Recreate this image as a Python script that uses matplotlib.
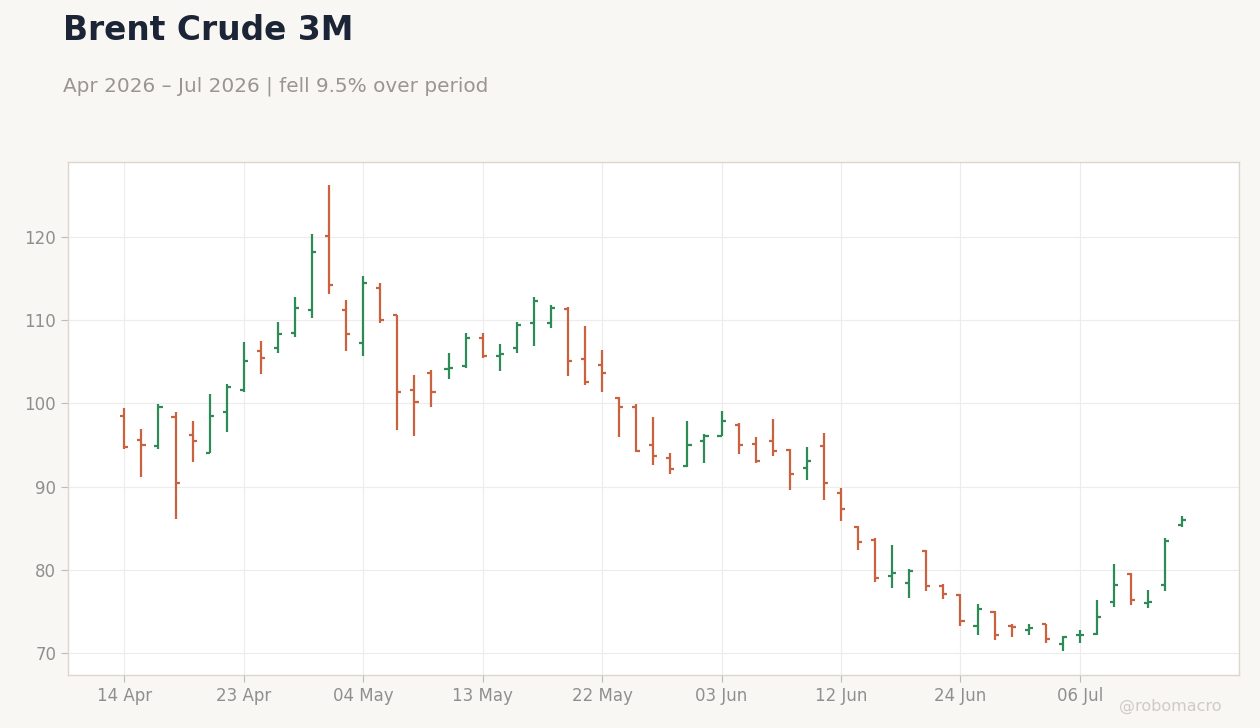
import numpy as np
import pandas as pd
import matplotlib
matplotlib.use("Agg")
import matplotlib.pyplot as plt

# Brent 3M daily OHLC (trading days only, US market holidays skipped)
holidays = ["2026-05-25", "2026-06-19", "2026-07-03"]
dates = pd.bdate_range("2026-04-14", "2026-07-14", freq="C", holidays=holidays)

opens = [98.5, 95.6, 94.9, 98.3, 96.2, 94.0, 99.0, 101.6, 106.3, 106.6,
         108.4, 111.2, 120.1, 111.2, 107.2, 113.9, 110.6, 101.6, 103.7, 104.1,
         104.5, 107.8, 105.7, 106.7, 109.7, 109.6, 111.3, 105.3, 104.65, 100.6,
         99.5, 95.0, 93.45, 92.5, 95.5, 96.1, 97.4, 95.1, 95.5, 94.4,
         92.25, 94.9, 89.2, 85.1, 83.6, 79.3, 78.45, 82.3, 78.05, 77.0,
         73.2, 74.95, 73.25, 72.7, 73.45, 71.1, 72.1, 72.25, 76.1, 79.5,
         76.05, 78.15, 85.4]
highs = [99.4, 96.9, 99.9, 98.9, 97.9, 101.1, 102.3, 107.4, 107.5, 109.8,
         112.8, 120.4, 126.2, 112.4, 115.3, 114.5, 110.6, 103.4, 104.0, 106.1,
         108.5, 108.4, 107.15, 109.8, 112.8, 111.85, 111.6, 109.3, 106.4, 100.8,
         99.9, 98.3, 94.0, 97.9, 96.3, 99.1, 97.6, 95.9, 98.1, 94.5,
         94.7, 96.4, 89.8, 85.2, 83.8, 83.0, 80.1, 82.35, 78.25, 77.05,
         75.9, 75.1, 73.45, 73.5, 73.5, 72.0, 72.7, 76.4, 80.65, 79.55,
         77.6, 83.85, 86.4]
lows = [94.5, 91.1, 94.5, 86.1, 92.9, 94.0, 96.6, 101.4, 103.5, 106.0,
        108.0, 110.3, 113.1, 106.3, 105.7, 109.7, 96.8, 96.1, 99.6, 102.9,
        104.2, 105.4, 103.9, 106.1, 106.9, 109.0, 103.3, 102.25, 101.4, 96.0,
        94.2, 92.6, 91.5, 92.4, 92.85, 96.1, 93.9, 92.8, 93.7, 89.6,
        90.8, 88.4, 85.9, 82.4, 78.5, 77.85, 76.65, 77.4, 76.5, 73.2,
        72.1, 71.5, 71.95, 72.2, 71.2, 70.2, 71.2, 72.2, 75.5, 75.75,
        75.4, 77.45, 85.15]
closes = [94.8, 95.0, 99.5, 90.4, 95.5, 98.5, 102.0, 105.1, 105.4, 108.3,
          111.4, 118.2, 114.2, 108.3, 114.5, 110.0, 101.3, 100.1, 101.4, 104.3,
          107.9, 105.7, 105.9, 109.4, 112.25, 111.4, 105.1, 102.6, 103.6, 99.6,
          94.3, 93.7, 92.1, 95.0, 96.1, 97.9, 95.0, 93.1, 94.3, 91.5,
          93.1, 90.4, 87.3, 83.3, 79.0, 79.65, 79.9, 78.0, 77.1, 73.8,
          75.3, 72.1, 73.1, 72.95, 71.65, 71.9, 72.15, 74.3, 78.15, 76.4,
          76.15, 83.45, 86.0]

title = "Brent Crude 3M"
subtitle = "Apr 2026 \u2013 Jul 2026 | fell 9.5% over period"

UP = "#2e8b57"
DOWN = "#c9623f"
BG = "#f9f7f4"

o = np.array(opens)
h = np.array(highs)
l = np.array(lows)
c = np.array(closes)
x = np.arange(len(o))
colors = [UP if cc >= oo else DOWN for oo, cc in zip(o, c)]

fig = plt.figure(figsize=(12.6, 7.28), dpi=100, facecolor=BG)
ax = fig.add_axes([0.054, 0.0728, 0.929, 0.7047])
ax.set_facecolor("white")

tick = 0.24
ax.vlines(x, l, h, colors=colors, linewidth=1.6, zorder=3)
ax.hlines(o, x - tick, x, colors=colors, linewidth=1.6, zorder=3)
ax.hlines(c, x, x + tick, colors=colors, linewidth=1.6, zorder=3)

ax.set_xlim(-3.3, len(x) - 1 + 3.3)
ax.set_ylim(67.35, 129.0)

xt = x[::7]
ax.set_xticks(xt)
ax.set_xticklabels([dates[i].strftime("%d %b") for i in xt])
ax.set_yticks([70, 80, 90, 100, 110, 120])

ax.grid(True, color="#ececec", linewidth=0.8, zorder=0)
ax.set_axisbelow(True)
for s in ax.spines.values():
    s.set_color("#ddd6cc")
    s.set_linewidth(1.0)
ax.tick_params(colors="#bbbbbb", labelcolor="#8f8f8f", labelsize=12, length=5, width=0.8)

fig.text(63 / 1260, 1 - 40 / 728, title, fontsize=23.7, fontweight="bold",
         color="#1c2536", ha="left", va="baseline")
fig.text(63 / 1260, 1 - 92 / 728, subtitle, fontsize=14.4, color="#999590",
         ha="left", va="baseline")
fig.text(1222 / 1260, 1 - 711 / 728, "@robomacro", fontsize=11.5, color="#cfcbc6",
         ha="right", va="baseline")

fig.savefig("out.png", dpi=100, facecolor=BG)
